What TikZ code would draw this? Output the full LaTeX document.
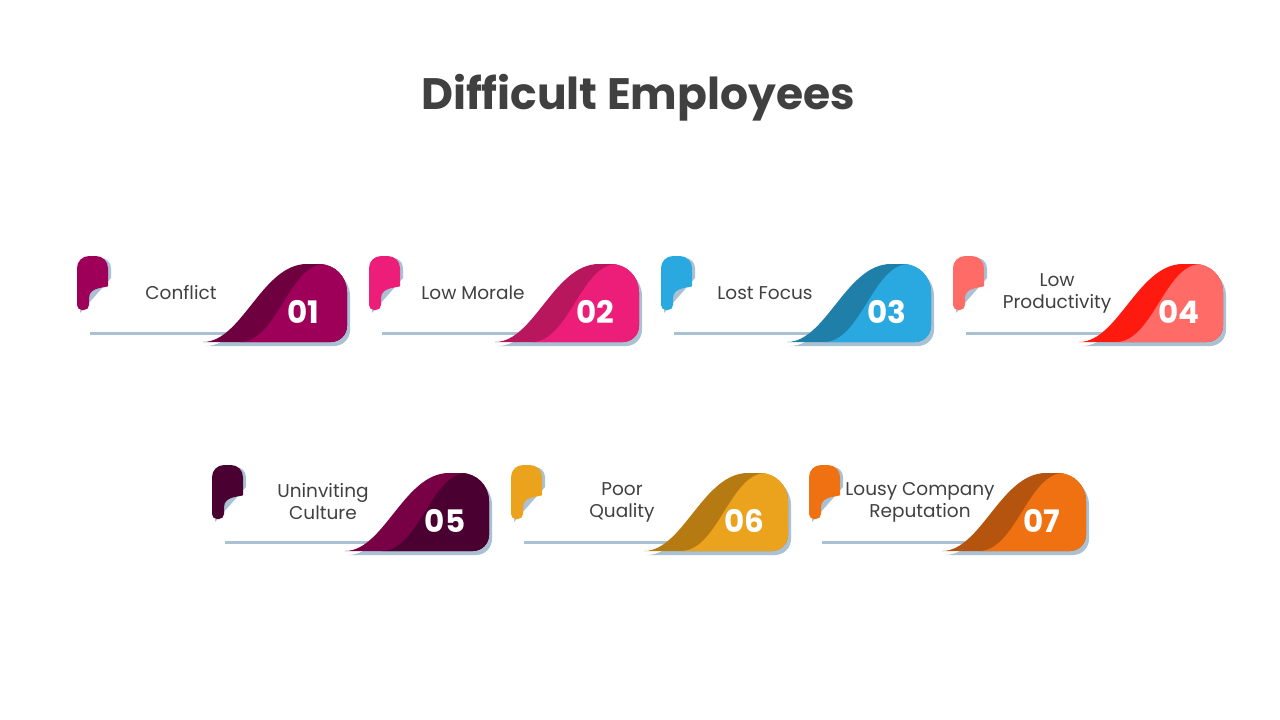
\documentclass[tikz,border=0pt]{standalone}
\usepackage{fontspec}
\setmainfont{Poppins}
\definecolor{shadowcol}{HTML}{A9C1D3}
\definecolor{titlecol}{HTML}{404040}
\definecolor{mainA}{HTML}{9E0059}\definecolor{darkA}{HTML}{6E0040}
\definecolor{mainB}{HTML}{EC1E79}\definecolor{darkB}{HTML}{B8175E}
\definecolor{mainC}{HTML}{29A9E0}\definecolor{darkC}{HTML}{1F7FA8}
\definecolor{mainD}{HTML}{FF6B66}\definecolor{darkD}{HTML}{FF1A10}
\definecolor{mainE}{HTML}{4A0030}\definecolor{darkE}{HTML}{780045}
\definecolor{mainF}{HTML}{EBA21C}\definecolor{darkF}{HTML}{B57A12}
\definecolor{mainG}{HTML}{EF7112}\definecolor{darkG}{HTML}{B5540E}
\tikzset{
  label text/.style={text=titlecol, font=\fontsize{18.5}{22}\selectfont, align=center},
  num text/.style={text=white, font=\fontsize{31}{34}\selectfont\bfseries},
}
\newcommand\cardshift{0}
% \card{x}{y}{main}{dark}{number}{label}{name}
\newcommand\card[7]{
  \begin{scope}[shift={(#1,#2)}]
    \draw[shadowcol, line width=3pt] (13,77) -- (165,77);
    % small tab
    \fill[shadowcol] (3,57) [rounded corners=10pt] -- (3,2) -- (34,2) [sharp corners] -- (34,22) -- cycle;
    \fill[#3] (0,54) [rounded corners=12pt] -- (0,0) -- (31,0) [rounded corners=8pt] -- (31,22) [sharp corners] .. controls (31,32) and (12,30) .. (12,42) [rounded corners=5pt] -- (12,54) -- cycle;
    \node[label text] (#7) at (104+\cardshift,37) {#6};
    \begin{scope}[xshift=\cardshift]
      \fill[shadowcol] (129,90) .. controls (168,90) and (188,12) .. (233,12) [rounded corners=28pt] -- (273,12) [rounded corners=16pt] -- (273,90) [sharp corners] -- cycle;
      \fill[#4] (126,86) .. controls (165,86) and (185,8) .. (230,8) [rounded corners=28pt] -- (270,8) [rounded corners=16pt] -- (270,86) [sharp corners] -- cycle;
      \begin{scope}
        \clip (126,86) .. controls (165,86) and (185,8) .. (230,8) [rounded corners=28pt] -- (270,8) [rounded corners=16pt] -- (270,86) [sharp corners] -- cycle;
        \fill[#3] (163,86) .. controls (200,86) and (212,8) .. (248,8) -- (300,0) -- (300,100) -- cycle;
      \end{scope}
      \node[num text] (#7n) at (226,56) {#5};
    \end{scope}
  \end{scope}
}
\begin{document}
\begin{tikzpicture}[x=1pt, y=-1pt]
  \useasboundingbox (0,0) rectangle (1280,720);
  \node[text=titlecol, font=\fontsize{44}{50}\selectfont\bfseries] (title) at (638,98) {Difficult Employees};
  \card{77}{256}{mainA}{darkA}{01}{Conflict}{conflict}
  \card{369}{256}{mainB}{darkB}{02}{Low Morale}{morale}
  \card{661}{256}{mainC}{darkC}{03}{Lost Focus}{focus}
  \card{953}{256}{mainD}{darkD}{04}{Low\\Productivity}{productivity}
  \renewcommand\cardshift{7}
  \card{212}{465}{mainE}{darkE}{05}{Uninviting\\Culture}{culture}
  \card{511}{465}{mainF}{darkF}{06}{Poor\\Quality}{quality}
  \card{809}{465}{mainG}{darkG}{07}{Lousy Company\\Reputation}{reputation}
\end{tikzpicture}
\end{document}
